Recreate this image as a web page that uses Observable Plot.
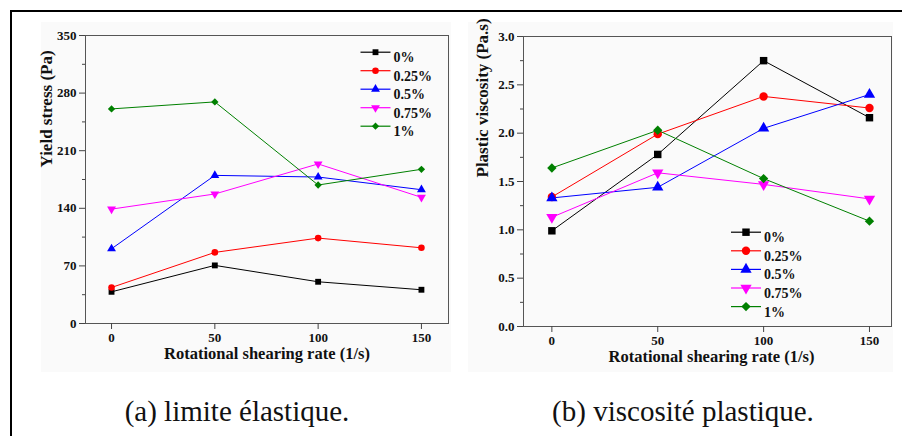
<!DOCTYPE html>
<html>
<head>
<meta charset="utf-8">
<script src="https://cdn.jsdelivr.net/npm/d3@7"></script>
<script src="https://cdn.jsdelivr.net/npm/@observablehq/plot@0.6"></script>
<style>
  html, body { margin: 0; padding: 0; background: #fff; }
  body { width: 912px; height: 436px; overflow: hidden; position: relative; font-family: "Liberation Serif", "Times New Roman", Tinos, "DejaVu Serif", serif; }
  #frame { position: absolute; left: 10px; top: 10px; width: 890px; height: 440px; border-left: 2px solid #000; border-top: 2px solid #000; }
  .panel { position: absolute; background: #fafafa; }
  #a { position: absolute; left: 0; top: 0; }
  #b { position: absolute; left: 456px; top: 0; }
  .cap { position: absolute; top: 397px; font-size: 29px; line-height: 1; transform: translateX(-50%); white-space: nowrap; color: #111; }
  svg text { font-family: "Liberation Serif", "Times New Roman", Tinos, "DejaVu Serif", serif !important; }
</style>
</head>
<body>
<div id="frame"></div>
<div class="panel" style="left:41px;top:22px;width:410px;height:350px"></div>
<div class="panel" style="left:468px;top:22px;width:425px;height:350px"></div>
<div id="a"></div>
<div id="b"></div>
<div class="cap" style="left:237px">(a) limite élastique.</div>
<div class="cap" style="left:683px">(b) viscosité plastique.</div>
<script>
// ---- data ----
const rates = [0, 50, 100, 150];
const series = ["0%", "0.25%", "0.5%", "0.75%", "1%"];
const colors = ["#000000", "#ff0000", "#0000ff", "#ff00ff", "#008000"];

// (a) Yield stress (Pa)
const yield0   = [38.5, 70.6, 50.7, 41.0];
const yield025 = [43.8, 86.4, 103.8, 92.0];
const yield05  = [90.8, 180.0, 178.0, 162.6];
const yield075 = [139.0, 157.4, 193.9, 153.3];
const yield1   = [260.8, 269.3, 168.3, 187.4];
const yieldTicks = [0, 70, 140, 210, 280, 350];
const yieldMinor = [35, 105, 175, 245, 315];

// (b) Plastic viscosity (Pa.s)
const visc0   = [0.99, 1.78, 2.75, 2.16];
const visc025 = [1.34, 1.99, 2.38, 2.26];
const visc05  = [1.33, 1.44, 2.05, 2.40];
const visc075 = [1.13, 1.59, 1.47, 1.32];
const visc1   = [1.64, 2.03, 1.53, 1.09];
const viscTicks = [0, 0.5, 1.0, 1.5, 2.0, 2.5, 3.0];
const viscMinor = [0.25, 0.75, 1.25, 1.75, 2.25, 2.75];

// ---- symbols ----
const sqrt3 = Math.sqrt(3);
const triangleDown = {
  draw(ctx, size) {
    const y = -Math.sqrt(size / (sqrt3 * 3));
    ctx.moveTo(0, -y * 2);
    ctx.lineTo(-sqrt3 * y, y);
    ctx.lineTo(sqrt3 * y, y);
    ctx.closePath();
  }
};
const legendLine = {
  draw(ctx, size) { ctx.moveTo(-15, 0); ctx.lineTo(15, 0); }
};
const symbols = ["square", "circle", "triangle", triangleDown, "diamond2"];

function toRows(arrays) {
  const rows = [];
  arrays.forEach((vals, i) => vals.forEach((v, j) => rows.push({s: series[i], x: rates[j], y: v})));
  return rows;
}

function chart(o) {
  const rows = toRows(o.values);
  const marks = [
    Plot.frame({stroke: "#555", strokeWidth: 1}),
    Plot.axisY(o.minor, {tickSize: 3, tickFormat: () => "", label: null, stroke: "#444"}),
    Plot.axisY(o.ticks, {tickSize: 6, tickPadding: 3, tickFormat: o.fmt, label: null, fontSize: 13, fontWeight: "bold", stroke: "#444"}),
    Plot.axisX(rates, {tickSize: 6, tickPadding: 3, label: null, fontSize: 13, fontWeight: "bold", stroke: "#444"}),
    Plot.text([o.xLabel], {frameAnchor: "bottom", dy: 35, dx: o.xdx, fontSize: 16.5, fontWeight: "bold", fill: "#111"}),
    Plot.text([o.yLabel], {frameAnchor: "left", rotate: -90, dx: o.ydx, dy: o.ydy, fontSize: 17, fontWeight: "bold", fill: "#111"})
  ];
  series.forEach((s, i) => {
    const d = rows.filter(r => r.s === s);
    marks.push(Plot.line(d, {x: "x", y: "y", stroke: colors[i], strokeWidth: 1}));
  });
  series.forEach((s, i) => {
    const d = rows.filter(r => r.s === s);
    marks.push(Plot.dot(d, {x: "x", y: "y", fill: colors[i], symbol: symbols[i], r: o.r}));
  });
  // legend
  series.forEach((s, i) => {
    const dy = o.leg.dy + o.leg.step * i;
    marks.push(Plot.dot([s], {frameAnchor: "top-left", dx: o.leg.dx, dy, symbol: legendLine, stroke: colors[i], fill: "none", strokeWidth: 1.2}));
    marks.push(Plot.dot([s], {frameAnchor: "top-left", dx: o.leg.dx, dy, symbol: symbols[i], fill: colors[i], r: o.r}));
    marks.push(Plot.text([s], {frameAnchor: "top-left", dx: o.leg.dx + 18, dy, textAnchor: "start", fontSize: 14, fontWeight: "bold", fill: "#111"}));
  });
  return Plot.plot({
    width: 456,
    height: 380,
    marginLeft: o.ml, marginRight: o.mr, marginTop: o.mt, marginBottom: o.mb,
    x: {domain: o.xDomain},
    y: {domain: o.yDomain},
    style: {fontFamily: "'Liberation Serif', 'Times New Roman', Tinos, 'DejaVu Serif', serif", fontWeight: "bold", fontSize: "13px", background: "transparent", color: "#111"},
    marks
  });
}

document.getElementById("a").append(chart({
  values: [yield0, yield025, yield05, yield075, yield1],
  ticks: yieldTicks, minor: yieldMinor, fmt: d3.format("d"),
  xLabel: "Rotational shearing rate (1/s)", yLabel: "Yield stress (Pa)",
  xdx: 0, ydx: -39, ydy: -12,
  ml: 85, mr: 8, mt: 35, mb: 57,
  xDomain: [-12.6, 163.1], yDomain: [0, 350], r: 3.3,
  leg: {dx: 290, dy: 16.7, step: 18.5}
}));

document.getElementById("b").append(chart({
  values: [visc0, visc025, visc05, visc075, visc1],
  ticks: viscTicks, minor: viscMinor, fmt: d3.format(".1f"),
  xLabel: "Rotational shearing rate (1/s)", yLabel: "Plastic viscosity (Pa.s)",
  xdx: 4, ydx: -41, ydy: -4,
  ml: 67, mr: 21, mt: 36, mb: 54,
  xDomain: [-13.4, 160.4], yDomain: [0, 3], r: 4.2,
  leg: {dx: 222.5, dy: 195.7, step: 18.6}
}));
</script>
</body>
</html>
